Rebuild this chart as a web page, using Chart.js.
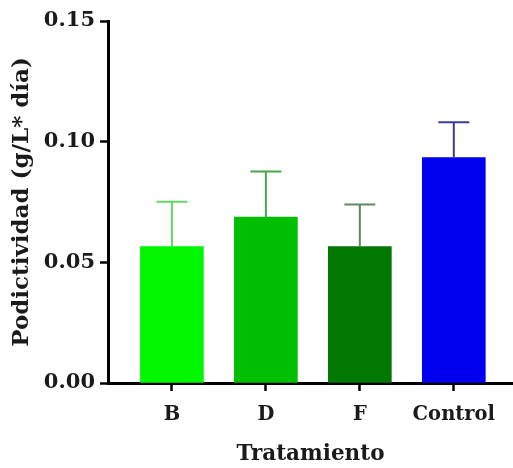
<!DOCTYPE html>
<html>
<head>
<meta charset="utf-8">
<script src="https://cdn.jsdelivr.net/npm/chart.js@4.4.1/dist/chart.umd.min.js"></script>
<style>
  html, body { margin: 0; padding: 0; background: #fff; }
  #wrap { width: 513px; height: 468px; }
</style>
</head>
<body>
<div id="wrap"><canvas id="grafico"></canvas></div>
<script>
// valores por tratamiento
const tratamientos = ['B', 'D', 'F', 'Control'];
const medias = [0.0565, 0.0687, 0.0565, 0.0934];
const desvios = [0.0186, 0.0189, 0.0175, 0.0146];
const coloresBarra = ['#00f700', '#00be00', '#007700', '#0000ef'];
const coloresError = ['#62d862', '#4aa64a', '#5e8a5e', '#3c3c92'];
const ticksY = [0, 0.05, 0.10, 0.15];

const fuente = 'DejaVu Serif';

// dibuja la barra de error (solo hacia arriba) sobre cada barra
const barrasError = {
  id: 'barrasError',
  afterDatasetsDraw: function (chart) {
    const ctx = chart.ctx;
    const y = chart.scales.y;
    const meta = chart.getDatasetMeta(0);
    meta.data.forEach(function (bar, i) {
      const yTop = y.getPixelForValue(medias[i] + desvios[i]);
      ctx.save();
      ctx.strokeStyle = coloresError[i];
      ctx.lineWidth = 2;
      ctx.beginPath();
      ctx.moveTo(bar.x, bar.y);
      ctx.lineTo(bar.x, yTop);
      ctx.moveTo(bar.x - 15.5, yTop);
      ctx.lineTo(bar.x + 15.5, yTop);
      ctx.stroke();
      ctx.restore();
    });
  }
};

var box = document.getElementById('grafico');
var grafico = new Chart(box, {
  type: 'bar',
  data: {
    datasets: [{
      data: medias.map((m, i) => ({ x: i, y: m })),
      backgroundColor: coloresBarra,
      borderWidth: 0,
      barThickness: 63
    }]
  },
  options: {
    responsive: true,
    maintainAspectRatio: false,
    animation: false,
    layout: { padding: { top: 21, right: 0, left: 0, bottom: 0 } },
    plugins: {
      legend: { display: false },
      tooltip: { enabled: false }
    },
    scales: {
      x: {
        type: 'linear',
        min: -0.68,
        max: 3.63,
        offset: false,
        afterBuildTicks: function (scale) {
          scale.ticks = tratamientos.map((t, i) => ({ value: i }));
        },
        afterFit: function (scale) { scale.height = 85; },
        border: { display: true, color: '#000', width: 3 },
        grid: { offset: false, drawOnChartArea: false, tickLength: 8, tickWidth: 2.5, tickColor: '#000' },
        ticks: {
          color: '#1a1a1a',
          padding: 12,
          maxRotation: 0,
          font: { family: fuente, size: 19.5, weight: 'bold' },
          callback: function (v) { return tratamientos[v]; }
        },
        title: {
          display: true,
          text: 'Tratamiento',
          color: '#1a1a1a',
          padding: { top: 0, bottom: 1 },
          font: { family: fuente, size: 21.5, weight: 'bold' }
        }
      },
      y: {
        min: 0,
        max: 0.15,
        afterBuildTicks: function (scale) {
          scale.ticks = ticksY.map(v => ({ value: v }));
        },
        afterFit: function (scale) { scale.width = 108; },
        border: { display: true, color: '#000', width: 3 },
        grid: { drawOnChartArea: false, tickLength: 8, tickWidth: 2.5, tickColor: '#000' },
        ticks: {
          color: '#1a1a1a',
          padding: 5,
          font: { family: fuente, size: 21, weight: 'bold' },
          callback: function (v) { return v.toFixed(2); }
        },
        title: {
          display: true,
          text: 'Podictividad (g/L* día)',
          color: '#1a1a1a',
          padding: { top: 8, bottom: 0 },
          font: { family: fuente, size: 23, weight: 'bold' }
        }
      }
    }
  },
  plugins: [barrasError]
});
</script>
</body>
</html>
